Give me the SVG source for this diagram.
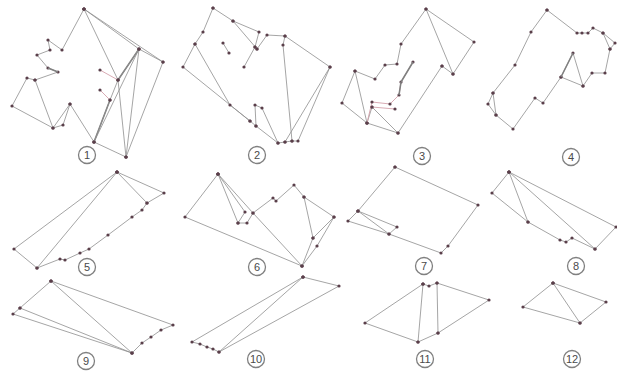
<svg xmlns="http://www.w3.org/2000/svg" width="617" height="375" viewBox="0 0 617 375">
<defs>
<marker id="dot" markerWidth="6" markerHeight="6" refX="3" refY="3" markerUnits="userSpaceOnUse">
<circle cx="3" cy="3" r="1.6" fill="#5a3f4a"/>
</marker>
<style>
.e{fill:none;stroke:#8e8e8e;stroke-width:0.8;stroke-linejoin:round;marker-start:url(#dot);marker-mid:url(#dot);marker-end:url(#dot)}
.r{fill:none;stroke:#d4a2ab;stroke-width:0.9;marker-start:url(#dot);marker-mid:url(#dot);marker-end:url(#dot)}
.t{fill:none;stroke:#808080;stroke-width:1.6}
.lc{fill:#fff;stroke:#808080;stroke-width:1.3}
.lt{font-family:"Liberation Sans",Arial,sans-serif;font-size:11px;fill:#4a4a4a;text-anchor:middle}
</style>
</defs>
<rect width="617" height="375" fill="#fff"/>

<g id="panel1">
<path class="e" d="M84,9 L62,50 L48,40 L50,50 L37,55 L48,68 L58,72 L35,80 L27,78 L12,106 L53,128 L70,104 L94,142 L126,157 L163,62 Z"/>
<path class="e" d="M35,80 L53,128 L63,125 L70,104"/>
<path class="t" d="M94,142 L110,100 M118,80 L139,49 M48,68 L58,72"/>
<path class="e" d="M94,142 L110,100 L118,80 L139,49 L126,157"/>
<path class="r" d="M100,90 L110,100 M100,70 L118,80"/>
<path class="e" d="M84,9 L118,80 L126,157 M84,9 L139,49 L163,62 M94,142 L139,49"/>
</g>

<g id="panel2">
<path class="e" d="M213,8 L233,21 L259,32 L255,47 L257,49 L267,35 L285,36 L330,67 L298,141 L292,141 L285,142 L278,143 L262,108 L255,105 L256,126 L250,121 L183,67 L195,44 L203,32 Z"/>
<path class="e" d="M233,21 L257,49 M255,47 L244,67 M223,43 L229,53"/>
<path class="e" d="M285,36 L283,45 L292,141 M330,67 L285,142"/>
<path class="e" d="M195,44 L230,105 L250,121 M256,126 L278,143"/>
</g>

<g id="panel3">
<path class="e" d="M442,66 L398,133 L367,123 L342,103 L355,71 L375,79 L385,65 L397,64 L401,44 L426,9 L474,42 L453,74 Z"/>
<path class="e" d="M426,9 L453,74 M355,71 L367,123 L372,107 L398,133"/>
<path class="r" d="M367,123 L372,102 L390,104 L399,95 L401,82 L413,62 M372,107 L395,109"/>
<path class="t" d="M401,82 L413,62 M399,95 L401,82"/>
</g>

<g id="panel4">
<path class="e" d="M547,10 L531,32 L515,65 L493,93 L488,104 L496,115 L513,129 L535,98 L543,103 L561,77 L573,53 L583,86 L592,73 L605,73 L610,49 L615,43 L603,33 L593,28 L588,33 L582,33 L577,33 Z"/>
<path class="e" d="M561,77 L583,86 M493,93 L496,115 M603,33 L610,49"/>
<path class="t" d="M561,77 L573,53"/>
</g>

<g id="panel5">
<path class="e" d="M117,172 L164,193 L147,203 L142,210 L132,217 L108,235 L89,249 L80,253 L65,260 L60,259 L37,268 L14,249 Z"/>
<path class="e" d="M117,172 L37,268 M117,172 L147,203"/>
</g>

<g id="panel6">
<path class="e" d="M218,174 L185,217 L302,266 L317,246 L334,217 L304,197 L294,185 L276,201 L273,198 L253,213 L247,223 L238,223 L245,212 Z"/>
<path class="e" d="M218,174 L238,223 M218,174 L253,213 L302,266 M304,197 L313,238 L302,266 M313,238 L334,217"/>
</g>

<g id="panel7">
<path class="e" d="M395,167 L478,205 L448,246 L441,253 L389,234 L348,221 L358,211 Z"/>
<path class="e" d="M358,211 L397,227 L389,234 L358,211"/>
</g>

<g id="panel8">
<path class="e" d="M509,172 L616,227 L595,249 L572,238 L566,242 L560,240 L528,222 L492,193 Z"/>
<path class="e" d="M509,172 L528,222 M509,172 L595,249"/>
</g>

<g id="panel9">
<path class="e" d="M51,281 L173,325 L161,330 L151,337 L142,343 L132,353 L13,314 L20,308 Z"/>
<path class="e" d="M51,281 L132,353 M20,308 L132,353"/>
</g>

<g id="panel10">
<path class="e" d="M303,277 L339,286 L219,352 L213,349 L207,347 L200,344 L192,342 Z"/>
<path class="e" d="M303,277 L219,352"/>
</g>

<g id="panel11">
<path class="e" d="M423,284 L429,286 L437,283 L489,300 L438,333 L418,342 L365,323 Z"/>
<path class="e" d="M423,284 L418,342 M437,283 L438,333"/>
</g>

<g id="panel12">
<path class="e" d="M553,283 L606,302 L580,323 L523,307 Z"/>
<path class="e" d="M553,283 L580,323"/>
</g>

<g id="labels">
<circle class="lc" cx="87" cy="155" r="8.5"/><text class="lt" x="87" y="159">1</text>
<circle class="lc" cx="257" cy="155" r="8.5"/><text class="lt" x="257" y="159">2</text>
<circle class="lc" cx="422" cy="156" r="8.5"/><text class="lt" x="422" y="160">3</text>
<circle class="lc" cx="571" cy="157" r="8.5"/><text class="lt" x="571" y="161">4</text>
<circle class="lc" cx="87" cy="267" r="8.5"/><text class="lt" x="87" y="271">5</text>
<circle class="lc" cx="257" cy="267" r="8.5"/><text class="lt" x="257" y="271">6</text>
<circle class="lc" cx="424" cy="266" r="8.5"/><text class="lt" x="424" y="270">7</text>
<circle class="lc" cx="576" cy="266" r="8.5"/><text class="lt" x="576" y="270">8</text>
<circle class="lc" cx="86" cy="361" r="8.5"/><text class="lt" x="86" y="365">9</text>
<circle class="lc" cx="256" cy="359" r="8.5"/><text class="lt" x="256" y="363">10</text>
<circle class="lc" cx="425" cy="359" r="8.5"/><text class="lt" x="425" y="363">11</text>
<circle class="lc" cx="572" cy="359" r="8.5"/><text class="lt" x="572" y="363">12</text>
</g>
</svg>
